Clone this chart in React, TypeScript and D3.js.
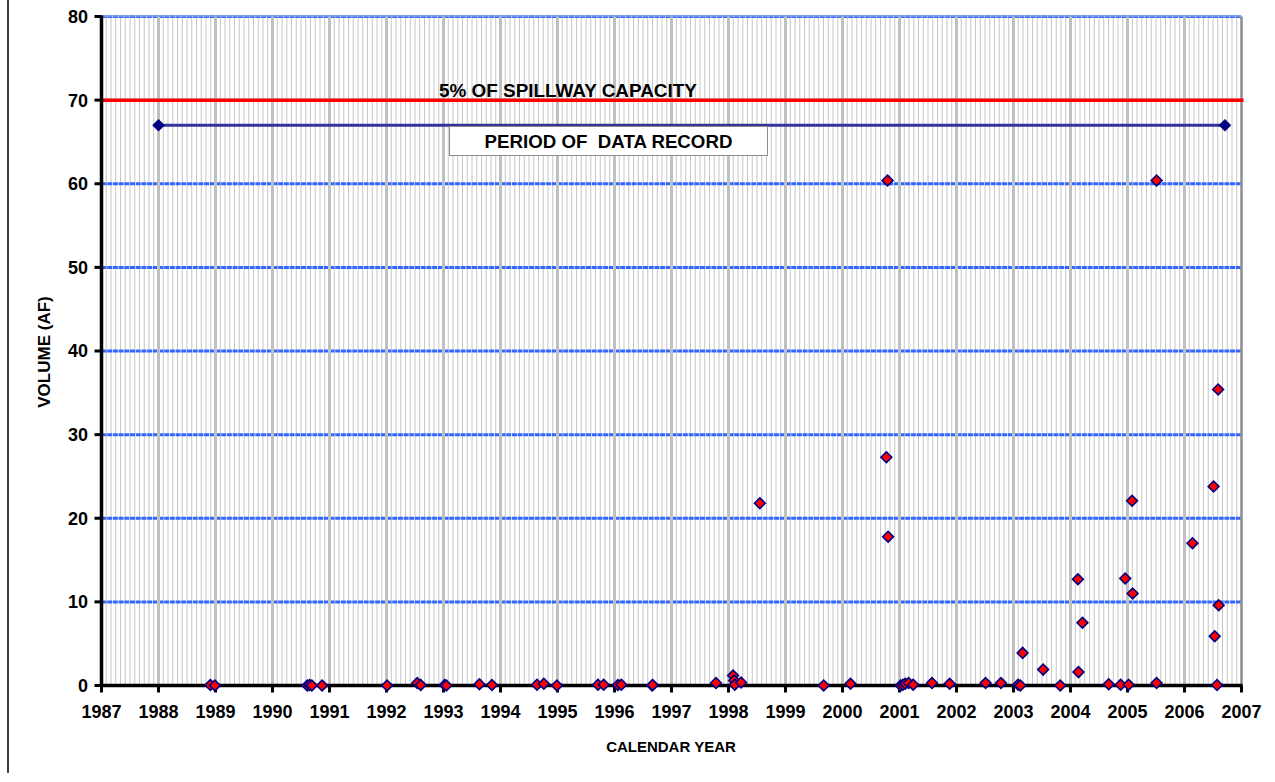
import React from "react";
import * as d3 from "d3";

const yearTicks = d3.range(1987, 2008);
const volumeTicks = [0, 10, 20, 30, 40, 50, 60, 70, 80];

const eventYears = [1988.91, 1988.99, 1990.61, 1990.65, 1990.69, 1990.87, 1992.01, 1992.54, 1992.60, 1993.02, 1993.05, 1993.63, 1993.85, 1994.64, 1994.76, 1994.99, 1995.71, 1995.81, 1996.06, 1996.12, 1996.66, 1996.67, 1997.78, 1998.08, 1998.10, 1998.11, 1998.22, 1998.55, 1999.67, 2000.14, 2000.77, 2000.79, 2000.80, 2001.02, 2001.06, 2001.10, 2001.16, 2001.24, 2001.57, 2001.88, 2002.51, 2002.78, 2003.08, 2003.12, 2003.16, 2003.52, 2003.82, 2004.13, 2004.14, 2004.21, 2004.67, 2004.88, 2004.96, 2005.02, 2005.08, 2005.09, 2005.51, 2005.51, 2006.14, 2006.51, 2006.53, 2006.57, 2006.59, 2006.60];
const eventVolumes = [0.05, 0, 0, 0.05, 0, 0, 0, 0.3, 0.05, 0.05, 0, 0.15, 0.05, 0.1, 0.2, 0, 0.1, 0.1, 0.05, 0.1, 0, 0.05, 0.3, 1.2, 0.6, 0.1, 0.35, 21.8, 0, 0.2, 27.3, 60.4, 17.8, 0, 0.1, 0.2, 0.3, 0.1, 0.3, 0.2, 0.3, 0.3, 0.1, 0, 3.9, 1.9, 0, 12.7, 1.6, 7.5, 0.15, 0.1, 12.8, 0.1, 22.1, 11.0, 0.3, 60.4, 17.0, 23.8, 5.9, 0.05, 35.4, 9.6];

const spillwayLevel = 70;
const spillwayLabel = "5% OF SPILLWAY CAPACITY";
const recordYears = [1988, 2006.71];
const recordLevel = 67;
const recordLabel = "PERIOD OF  DATA RECORD";

const FONT = "'Liberation Sans', Arial, Helvetica, sans-serif";

export default function App() {
  const W = 1275, H = 782;
  const x = d3.scaleLinear().domain([1987, 2007]).range([101.5, 1241.5]);
  const y = d3.scaleLinear().domain([0, 80]).range([685.5, 16.5]);
  const months = d3.range(0, 241).filter((i) => i % 12 !== 0).map((i) => 1987 + i / 12);
  const diamond = d3.symbol().type(d3.symbolSquare).size(58)();
  const navyDiamond = d3.symbol().type(d3.symbolSquare).size(62)();
  const [x0, x1] = x.range();
  const [yb, yt] = y.range();

  return (
    <svg width={W} height={H} style={{ position: "absolute", left: 0, top: 0, background: "#fff" }}>
      <line x1={8} x2={8} y1={0} y2={773} stroke="#000" strokeWidth={1.5} />
      {/* minor monthly gridlines */}
      {months.map((m, i) => (
        <line key={"m" + i} x1={x(m)} x2={x(m)} y1={yt} y2={yb} stroke="#c6c6c6" strokeWidth={1} />
      ))}
      {/* horizontal gridlines */}
      {volumeTicks.filter((v) => v > 0).map((v) => (
        <line key={"h" + v} x1={x0} x2={x1} y1={y(v)} y2={y(v)} stroke="#3366ff" strokeWidth={3} strokeDasharray="5,0.7" />
      ))}
      {/* major yearly gridlines */}
      {yearTicks.slice(1, -1).map((t) => (
        <line key={"g" + t} x1={x(t)} x2={x(t)} y1={yt} y2={yb} stroke="#c0c0c0" strokeWidth={3} />
      ))}
      <line x1={x0} x2={x1} y1={yt - 0.5} y2={yt - 0.5} stroke="#8aa4e6" strokeWidth={1.5} />
      <line x1={x1} x2={x1} y1={yt} y2={yb} stroke="#8c8c8c" strokeWidth={2.5} />

      {/* spillway line */}
      <line x1={x0} x2={x1 + 2} y1={y(spillwayLevel)} y2={y(spillwayLevel)} stroke="#ff0000" strokeWidth={3.5} />
      <text x={439} y={y(spillwayLevel) - 3.5} fontFamily={FONT} fontWeight="bold" fontSize={18.9} fill="#000">{spillwayLabel}</text>

      {/* period of record */}
      <line x1={x(recordYears[0])} x2={x(recordYears[1])} y1={y(recordLevel)} y2={y(recordLevel)} stroke="#333399" strokeWidth={3} />
      {recordYears.map((r, i) => (
        <path key={"r" + i} d={navyDiamond} transform={`translate(${x(r)},${y(recordLevel)}) rotate(45)`} fill="#000080" stroke="#000080" strokeWidth={1} />
      ))}
      <rect x={449.5} y={126.5} width={318} height={29} fill="#fff" stroke="#8c8c8c" strokeWidth={1} />
      <text x={608.5} y={147.5} textAnchor="middle" fontFamily={FONT} fontWeight="bold" fontSize={18.7} fill="#000" style={{ whiteSpace: "pre" }}>{recordLabel}</text>

      {/* axes */}
      <line x1={x0} x2={x0} y1={yt - 1} y2={yb + 1.5} stroke="#000" strokeWidth={3.5} />
      <line x1={x0 - 1.5} x2={x1 + 1} y1={yb} y2={yb} stroke="#000" strokeWidth={3.5} />
      {volumeTicks.map((v) => (
        <g key={"yt" + v}>
          <line x1={x0 - 7} x2={x0} y1={y(v)} y2={y(v)} stroke="#000" strokeWidth={3} />
          <text x={88} y={y(v)} dy="0.36em" textAnchor="end" fontFamily={FONT} fontWeight="bold" fontSize={18} fill="#000">{v}</text>
        </g>
      ))}
      {yearTicks.map((t) => (
        <g key={"xt" + t}>
          <line x1={x(t)} x2={x(t)} y1={yb} y2={yb + 7} stroke="#000" strokeWidth={3} />
          <text x={x(t)} y={718} textAnchor="middle" fontFamily={FONT} fontWeight="bold" fontSize={18} fill="#000">{t}</text>
        </g>
      ))}

      {/* data points */}
      {eventYears.map((yr, i) => (
        <path key={"p" + i} d={diamond} transform={`translate(${x(yr)},${y(eventVolumes[i])}) rotate(45)`} fill="#ff0000" stroke="#000080" strokeWidth={1.6} />
      ))}

      {/* axis titles */}
      <text x={671} y={752} textAnchor="middle" fontFamily={FONT} fontWeight="bold" fontSize={15} fill="#000">CALENDAR YEAR</text>
      <text transform="translate(50,352) rotate(-90)" textAnchor="middle" fontFamily={FONT} fontWeight="bold" fontSize={17} fill="#000">VOLUME (AF)</text>
    </svg>
  );
}
